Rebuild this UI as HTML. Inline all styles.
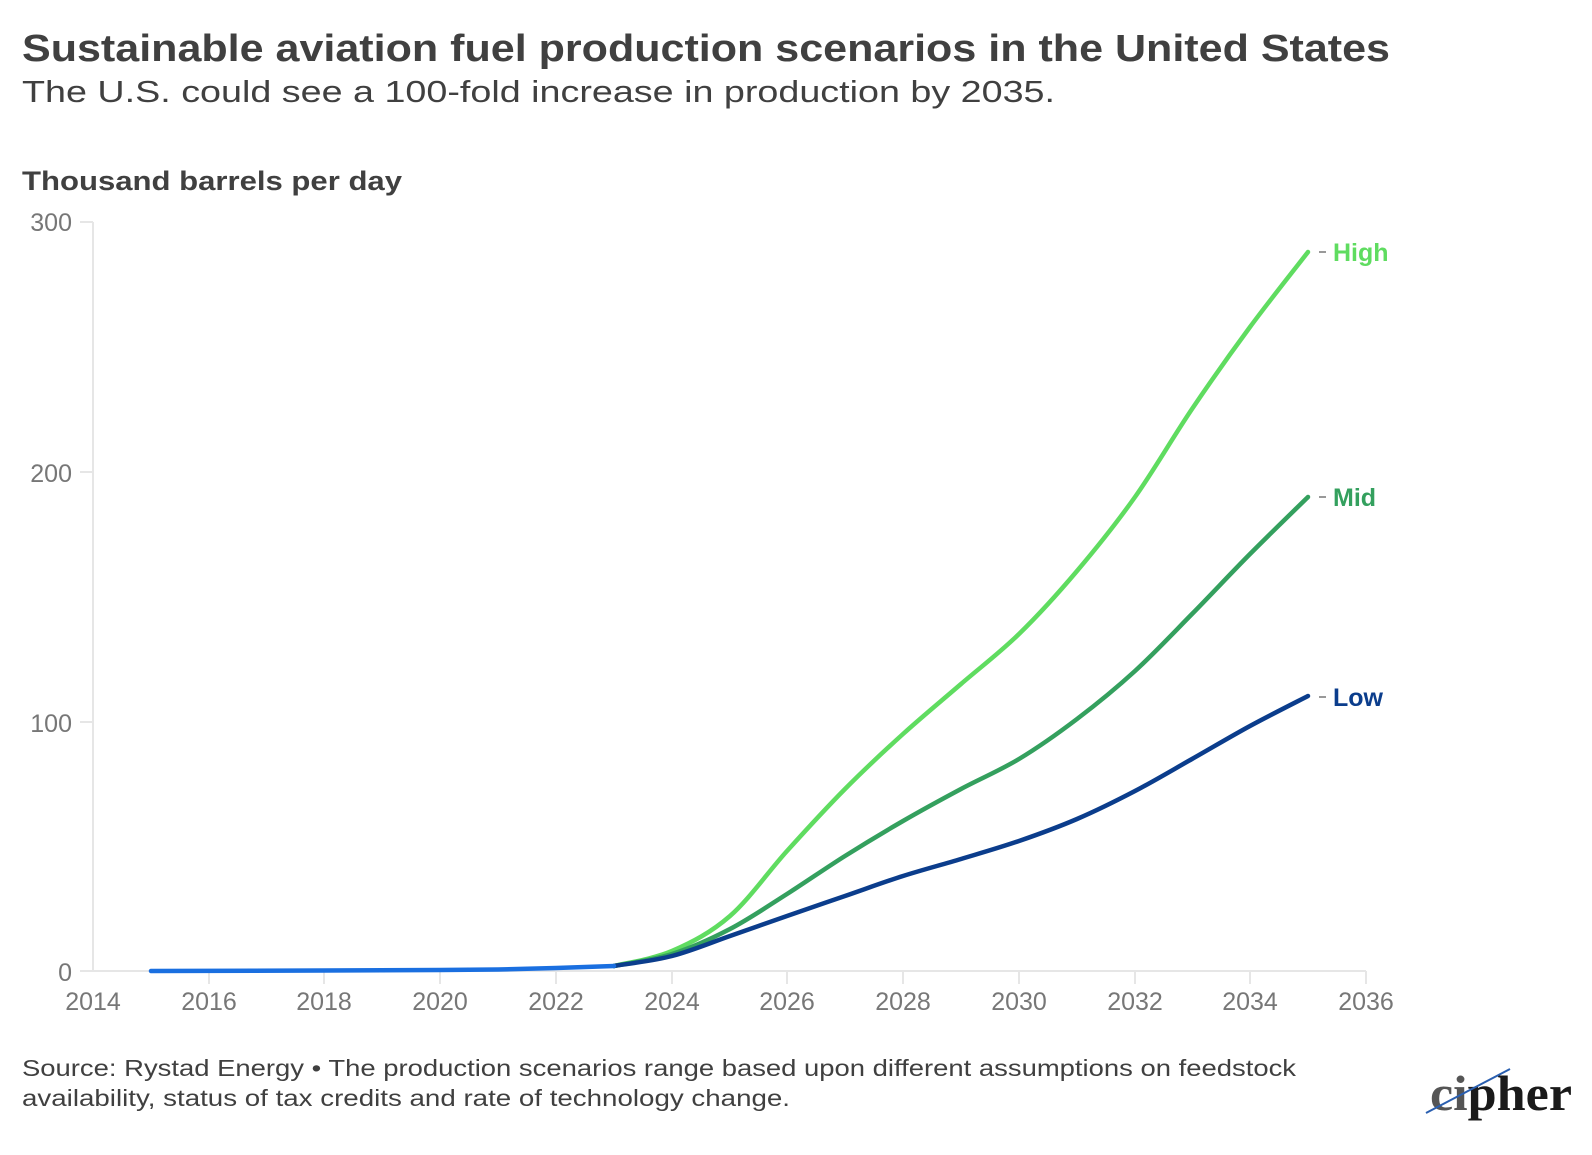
<!DOCTYPE html>
<html><head><meta charset="utf-8"><style>
body{margin:0;background:#fff;width:1592px;height:1150px;overflow:hidden;font-family:"Liberation Sans",sans-serif}
</style></head><body>
<svg id="s" width="1592" height="1150" xmlns="http://www.w3.org/2000/svg" font-family="Liberation Sans, sans-serif">
<text x="22" y="61" font-size="38" font-weight="bold" fill="#404040" textLength="1368" lengthAdjust="spacingAndGlyphs">Sustainable aviation fuel production scenarios in the United States</text>
<text x="22" y="102" font-size="31" fill="#404040" textLength="1033" lengthAdjust="spacingAndGlyphs">The U.S. could see a 100-fold increase in production by 2035.</text>
<text x="22" y="190" font-size="27" font-weight="bold" fill="#404040" textLength="380" lengthAdjust="spacingAndGlyphs">Thousand barrels per day</text>
<g fill="#777" font-size="25">
<text x="72" y="231" text-anchor="end">300</text>
<text x="72" y="482" text-anchor="end">200</text>
<text x="72" y="732" text-anchor="end">100</text>
<text x="72" y="981" text-anchor="end">0</text>
<g text-anchor="middle">
<text x="93" y="1010">2014</text><text x="209" y="1010">2016</text><text x="324" y="1010">2018</text><text x="440" y="1010">2020</text><text x="556" y="1010">2022</text><text x="672" y="1010">2024</text><text x="787" y="1010">2026</text><text x="903" y="1010">2028</text><text x="1019" y="1010">2030</text><text x="1135" y="1010">2032</text><text x="1250" y="1010">2034</text><text x="1366" y="1010">2036</text>
</g></g>
<g stroke="#e6e6e6" stroke-width="2" fill="none">
<line x1="93" y1="222" x2="93" y2="971"/>
<line x1="80" y1="222" x2="93" y2="222"/><line x1="80" y1="472" x2="93" y2="472"/><line x1="80" y1="722" x2="93" y2="722"/>
<line x1="80" y1="971" x2="1366" y2="971"/>
<line x1="209" y1="971" x2="209" y2="984"/><line x1="324" y1="971" x2="324" y2="984"/><line x1="440" y1="971" x2="440" y2="984"/><line x1="556" y1="971" x2="556" y2="984"/><line x1="672" y1="971" x2="672" y2="984"/><line x1="787" y1="971" x2="787" y2="984"/><line x1="903" y1="971" x2="903" y2="984"/><line x1="1019" y1="971" x2="1019" y2="984"/><line x1="1135" y1="971" x2="1135" y2="984"/><line x1="1250" y1="971" x2="1250" y2="984"/><line x1="1366" y1="971" x2="1366" y2="984"/>
</g>
<g fill="none" stroke-width="4.5" stroke-linejoin="round" stroke-linecap="round">
<path id="h" stroke="#5fdc60" data-p="614,966 672,951 730,916 787,851 845,789 903,734 961,684 1019,634 1077,571 1135,497 1192,409 1250,327 1308,252"/>
<path id="m" stroke="#34a05e" data-p="614,966 672,954 730,929 787,894 845,856 903,821 961,789 1019,759 1077,719 1135,671 1192,614 1250,554 1308,497"/>
<path id="l" stroke="#0b3d8c" data-p="614,966 672,956 730,936 787,916 845,896 903,876 961,859 1019,841 1077,819 1135,791 1192,759 1250,726 1308,696"/>
<polyline stroke="#1a6fe0" points="151,971 324,970.5 440,970 498,969.5 556,968 614,966"/>
</g>
<g stroke="#999" stroke-width="2"><line x1="1319" y1="252" x2="1326" y2="252"/><line x1="1319" y1="497" x2="1326" y2="497"/><line x1="1319" y1="697" x2="1326" y2="697"/></g>
<g font-size="25" font-weight="bold">
<text x="1333" y="261" fill="#5fdc60">High</text>
<text x="1333" y="506" fill="#34a05e">Mid</text>
<text x="1333" y="706" fill="#0b3d8c">Low</text>
</g>
<text x="22" y="1076" font-size="23" fill="#404040" textLength="1274" lengthAdjust="spacingAndGlyphs">Source: Rystad Energy • The production scenarios range based upon different assumptions on feedstock</text>
<text x="22" y="1106" font-size="23" fill="#404040" textLength="768" lengthAdjust="spacingAndGlyphs">availability, status of tax credits and rate of technology change.</text>
<text x="1430" y="1110" font-size="50" font-weight="bold" font-family="Liberation Serif, serif" fill="#1a1a1a" textLength="142" lengthAdjust="spacingAndGlyphs"><tspan fill="#555">ci</tspan>pher</text>
<line x1="1426" y1="1113" x2="1510" y2="1069" stroke="#2a5fb0" stroke-width="2"/>
</svg>
<script>
["h","m","l"].forEach(function(id){
var e=document.getElementById(id);
var p=e.getAttribute("data-p").split(" ").map(function(s){return s.split(",").map(Number);});
var d="M"+p[0][0]+","+p[0][1];
for(var i=0;i<p.length-1;i++){
var p0=p[i-1]||p[i],p1=p[i],p2=p[i+1],p3=p[i+2]||p2;
var c1x=p1[0]+(p2[0]-p0[0])/6,c1y=p1[1]+(p2[1]-p0[1])/6;
var c2x=p2[0]-(p3[0]-p1[0])/6,c2y=p2[1]-(p3[1]-p1[1])/6;
d+=" C"+c1x+","+c1y+" "+c2x+","+c2y+" "+p2[0]+","+p2[1];
}
e.setAttribute("d",d);
});
</script>
</body></html>
